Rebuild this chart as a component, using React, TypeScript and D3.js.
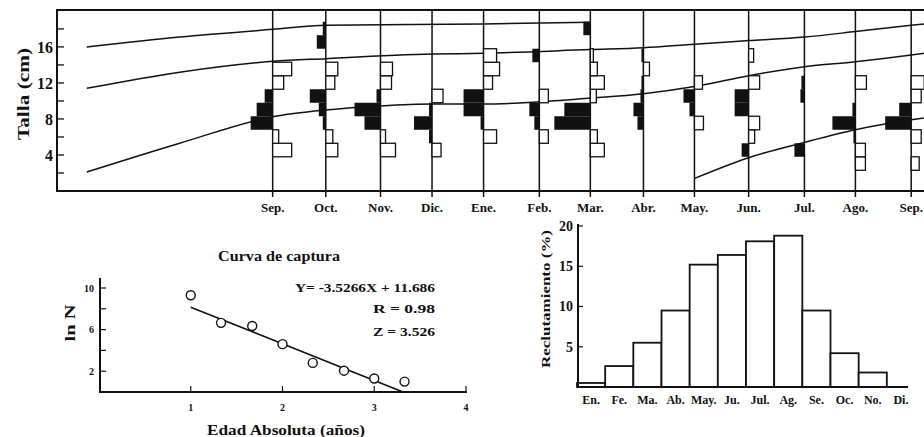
import React from 'react';
import * as d3 from 'd3';

// ---- top panel: length frequencies (ELEFAN restructured) ----
const monthLabels = ['Sep.', 'Oct.', 'Nov.', 'Dic.', 'Ene.', 'Feb.', 'Mar.', 'Abr.', 'May.', 'Jun.', 'Jul.', 'Ago.', 'Sep.'];
// sampling time, in months after the first September
const sampleTimes = [0, 1.0, 2.03, 3.0, 3.97, 5.02, 5.98, 6.98, 7.94, 8.96, 10.01, 10.97, 12.02];
// lower limit of each length class (cm)
const lengthClasses = [0.8, 2.3, 3.8, 5.3, 6.8, 8.3, 9.8, 11.3, 12.8, 14.3, 15.8, 17.3, 18.8];
const classWidth = 1.5;
// restructured frequency per class: positive = peak (black, left), negative = trough (white, right)
const sepA = [0, 0, -19, -6, 22, 16, 8, -11, -19, 0, 0, 0, 0];
const octA = [0, 0, -12, -7, 3, 7, 16, -9, -12, 0, 9, 3, 0];
const novA = [0, 0, -15, -5, 16, 26, 4, -11, -12, 0, 0, 0, 0];
const dicA = [0, 0, -9, 3, 18, 3, -11, 0, 0, 0, 0, 0, 0];
const eneB = [0, 0, 0, -13, 3, 20, 20, -9, -16, -13, 0, 0, 0];
const febB = [0, 0, 0, -9, 5, 10, -9, 0, 0, 7, 0, 0, 0];
const marB = [0, 0, -14, -7, 36, 26, -6, -14, -7, -3, 0, 7, 0];
const abrB = [0, 0, 0, 0, 6, 10, 3, 2, -6, 2, 0, 0, 0];
const mayB = [0, 0, 0, 0, -9, 5, 11, -8, 0, 0, 0, 0, 0];
const junB = [0, 0, 7, -6, -11, 14, 14, -11, 0, -5, 0, 0, 0];
const julB = [0, 0, 10, 0, 0, 0, 4, 3, 0, 0, 0, 0, 0];
const agoB = [0, -10, -10, 2, 23, 3, 0, -11, 0, 0, 0, 0, 0];
const sepB = [0, -8, 0, -10, 26, 12, -10, -13, 0, 0, 0, 0, 0];
const samples = [sepA, octA, novA, dicA, eneB, febB, marB, abrB, mayB, junB, julB, agoB, sepB];

// growth curves [months, cm]
const cohort1: [number, number][] = [[-3.5, 16.0], [-1.75, 17.1], [0, 17.95], [1.0, 18.4], [3.97, 18.55], [5.98, 18.75]];
const cohort2: [number, number][] = [[-3.5, 11.4], [-1.75, 13.2], [0, 14.4], [1.0, 14.7], [3.0, 15.2], [3.97, 15.3], [5.98, 15.7],
  [6.98, 15.9], [7.94, 16.3], [8.96, 16.7], [10.01, 17.1], [10.97, 17.7], [12.02, 18.4], [12.5, 18.7]];
const cohort3: [number, number][] = [[-3.5, 2.1], [-1.75, 5.3], [0, 8.25], [1.0, 9.0], [2.03, 9.45], [3.0, 9.65], [3.97, 9.65],
  [5.02, 9.9], [5.98, 10.3], [6.98, 10.8], [7.94, 11.6], [8.96, 12.8], [10.01, 13.8], [10.97, 14.35], [12.02, 15.1], [12.5, 15.5]];
const cohort4: [number, number][] = [[7.94, 1.4], [8.96, 3.7], [10.01, 5.4], [10.97, 6.8], [12.02, 7.9], [12.5, 8.3]];
const cohorts = [cohort1, cohort2, cohort3, cohort4];

// ---- catch curve ----
const ages = [1, 1.33, 1.67, 2, 2.33, 2.67, 3, 3.33];
const lnN = [9.3, 6.65, 6.35, 4.6, 2.8, 2.05, 1.3, 1.0];
const slope = -3.5266;
const intercept = 11.686;

// ---- recruitment ----
const recMonths = ['En.', 'Fe.', 'Ma.', 'Ab.', 'May.', 'Ju.', 'Jul.', 'Ag.', 'Se.', 'Oc.', 'No.', 'Di.'];
const recValues = [0.5, 2.6, 5.5, 9.5, 15.2, 16.4, 18.1, 18.8, 9.5, 4.2, 1.8, 0];

const ink = '#111';

export default function App() {
  // top panel scales
  const xT = d3.scaleLinear().domain([-4.06, 12.6]).range([57, 942]);
  const yT = d3.scaleLinear().domain([0, 20.1]).range([191, 10]);
  const wT = d3.scaleLinear().domain([0, 40]).range([0, 40]);
  const growth = d3.line<[number, number]>().x(d => xT(d[0])).y(d => yT(d[1])).curve(d3.curveMonotoneX);

  // catch curve scales
  const xC = d3.scaleLinear().domain([0, 4]).range([99, 466]);
  const yC = d3.scaleLinear().domain([0, 10]).range([392, 288]);
  const xEnd = -intercept / slope;

  // recruitment scales
  const xR = d3.scaleBand<string>().domain(recMonths).range([577, 915]).padding(0);
  const yR = d3.scaleLinear().domain([0, 20]).range([387, 226]);

  return (
    <div style={{ position: 'absolute', left: 0, top: 0 }}>
      <svg width={924} height={437}
        style={{ display: 'block', background: '#fff', fontFamily: 'Liberation Serif, Times New Roman, serif', fontWeight: 700 }}
        fill={ink}>
        <defs>
          <clipPath id="frame"><rect x={57} y={10} width={900} height={181} /></clipPath>
        </defs>

        {/* ---------- top panel ---------- */}
        <g clipPath="url(#frame)">
          {cohorts.map((c, i) => (
            <path key={i} d={growth(c) || ''} fill="none" stroke={ink} strokeWidth={1.5} />
          ))}
        </g>
        {sampleTimes.map((t, m) => (
          <g key={m}>
            <line x1={xT(t)} x2={xT(t)} y1={10} y2={197} stroke={ink} strokeWidth={1.5} />
            {samples[m].map((v, i) => {
              if (v === 0) return null;
              const y0 = yT(lengthClasses[i] + classWidth);
              const h = yT(lengthClasses[i]) - y0;
              const w = wT(Math.abs(v));
              return v > 0
                ? <rect key={i} x={xT(t) - w} y={y0} width={w} height={h} fill={ink} />
                : <rect key={i} x={xT(t)} y={y0} width={w} height={h} fill="#fff" stroke={ink} strokeWidth={1.3} />;
            })}
            <text x={xT(t)} y={212} textAnchor="middle" fontSize={13}>{monthLabels[m]}</text>
          </g>
        ))}
        <rect x={57} y={10} width={900} height={181} fill="none" stroke={ink} strokeWidth={2} />
        {d3.range(2, 20, 2).map(v => (
          <line key={v} x1={57} x2={64} y1={yT(v)} y2={yT(v)} stroke={ink} strokeWidth={1.3} />
        ))}
        {[4, 8, 12, 16].map(v => (
          <text key={v} x={53} y={yT(v)} dy="0.35em" textAnchor="end" fontSize={16}>{v}</text>
        ))}
        <text transform="translate(29,94) rotate(-90)" textAnchor="middle" fontSize={17}
          textLength={92} lengthAdjust="spacingAndGlyphs">Talla (cm)</text>

        {/* ---------- catch curve ---------- */}
        <text x={279} y={261} textAnchor="middle" fontSize={14} textLength={122} lengthAdjust="spacingAndGlyphs">Curva de captura</text>
        <line x1={100} x2={100} y1={278} y2={392} stroke={ink} strokeWidth={2} />
        <line x1={99} x2={467} y1={392} y2={392} stroke={ink} strokeWidth={2} />
        {[2, 4, 6, 8, 10].map(v => (
          <line key={v} x1={100} x2={106} y1={yC(v)} y2={yC(v)} stroke={ink} strokeWidth={1.2} />
        ))}
        {[2, 6, 10].map(v => (
          <text key={v} x={94} y={yC(v)} dy="0.35em" textAnchor="end" fontSize={10}>{v}</text>
        ))}
        {[1, 2, 3, 4].map(v => (
          <g key={v}>
            <line x1={xC(v)} x2={xC(v)} y1={386} y2={392} stroke={ink} strokeWidth={1.2} />
            <text x={xC(v)} y={411} textAnchor="middle" fontSize={10}>{v}</text>
          </g>
        ))}
        <text transform="translate(75,323) rotate(-90)" textAnchor="middle" fontSize={15}
          textLength={37} lengthAdjust="spacingAndGlyphs">ln N</text>
        <text x={286} y={435} textAnchor="middle" fontSize={14} textLength={158} lengthAdjust="spacingAndGlyphs">Edad Absoluta (años)</text>
        <line x1={xC(1)} x2={xC(xEnd)} y1={yC(slope + intercept)} y2={yC(0)} stroke={ink} strokeWidth={1.6} />
        {ages.map((a, i) => (
          <circle key={i} cx={xC(a)} cy={yC(lnN[i])} r={4.5} fill="#fff" stroke={ink} strokeWidth={1.4} />
        ))}
        <text x={435} y={292} textAnchor="end" fontSize={13} textLength={140} lengthAdjust="spacingAndGlyphs">Y= -3.5266X + 11.686</text>
        <text x={435} y={313} textAnchor="end" fontSize={13} textLength={62} lengthAdjust="spacingAndGlyphs">R = 0.98</text>
        <text x={435} y={336} textAnchor="end" fontSize={13} textLength={62} lengthAdjust="spacingAndGlyphs">Z = 3.526</text>

        {/* ---------- recruitment ---------- */}
        {recMonths.map((m, i) => recValues[i] > 0 && (
          <rect key={m} x={xR(m)} y={yR(recValues[i])} width={xR.bandwidth()} height={yR(0) - yR(recValues[i])}
            fill="#fff" stroke={ink} strokeWidth={1.8} />
        ))}
        <line x1={578} x2={578} y1={224} y2={387} stroke={ink} strokeWidth={2} />
        <line x1={577} x2={908} y1={387} y2={387} stroke={ink} strokeWidth={2} />
        {[5, 10, 15, 20].map(v => (
          <g key={v}>
            <line x1={578} x2={583} y1={yR(v)} y2={yR(v)} stroke={ink} strokeWidth={1.2} />
            <text x={573} y={yR(v)} dy="0.35em" textAnchor="end" fontSize={14}>{v}</text>
          </g>
        ))}
        {recMonths.map(m => (
          <text key={m} x={(xR(m) || 0) + xR.bandwidth() / 2} y={404} textAnchor="middle" fontSize={12}>{m}</text>
        ))}
        <text transform="translate(550,299) rotate(-90)" textAnchor="middle" fontSize={13}
          textLength={138} lengthAdjust="spacingAndGlyphs">Reclutamiento (%)</text>
      </svg>
    </div>
  );
}
